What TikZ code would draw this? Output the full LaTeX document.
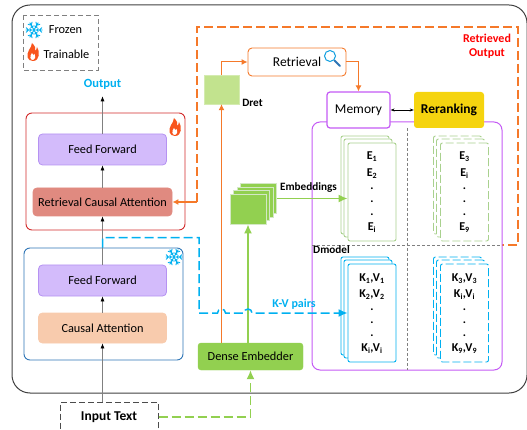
\documentclass[tikz,border=0pt]{standalone}
\usepackage{fontspec}
\setmainfont{Carlito}
\usetikzlibrary{arrows.meta,positioning,calc}
\definecolor{skyblue}{HTML}{00B0F0}
\definecolor{flameorange}{HTML}{F5792A}
\definecolor{leafgreen}{HTML}{92D050}
\definecolor{palegreen}{HTML}{A9D18E}
\definecolor{dretgreen}{HTML}{C2E38E}
\definecolor{memviolet}{HTML}{C45AF5}
\definecolor{ffpurple}{HTML}{D3BBFB}
\definecolor{ffborder}{HTML}{B692F2}
\definecolor{rcared}{HTML}{E08A80}
\definecolor{capeach}{HTML}{F8CBAD}
\definecolor{trainred}{HTML}{D22B2B}
\definecolor{frozenblue}{HTML}{2E75B6}
\definecolor{rerankgold}{HTML}{F5D40F}
\tikzset{
  snowflake/.pic={
    \foreach \a in {0,60,...,300}
      \draw[skyblue, line width=0.9pt, rotate=\a] (0,0)--(8.5,0) (5.5,0)--(8,2.4) (5.5,0)--(8,-2.4) (2.8,0)--(4.3,1.6) (2.8,0)--(4.3,-1.6);
  },
  flame/.pic={
    \fill[flameorange!70!red] (0,8) .. controls (-6,8) and (-7,2) .. (-4,-3) .. controls (-3,-5) and (-1,-7) .. (-1,-10) .. controls (2,-7) and (3,-5) .. (2,-2) .. controls (3,-3) and (4,-4) .. (4,-6) .. controls (7,-2) and (7,8) .. (0,8) -- cycle;
    \fill[white] (0,7) .. controls (-3,7) and (-3.5,3) .. (-1,0) .. controls (-0.5,2) and (1,3) .. (1.5,1) .. controls (3,4) and (2,7) .. (0,7) -- cycle;
  }
}
\begin{document}
\begin{tikzpicture}[x=1pt, y=-1pt,
  block/.style={rounded corners=4pt, line width=0.8pt, inner sep=0pt, minimum width=128, minimum height=31, font=\fontsize{12.3}{14}\selectfont},
  flow/.style={draw=gray, line width=0.6pt, -{Latex[length=5pt,width=4pt,color=black]}},
  card/.style={fill=white, line width=0.9pt, rounded corners=2pt, minimum width=48, minimum height=98, inner sep=0pt},
  dcard/.style={card, dash pattern=on 8pt off 3pt},
  entry/.style={font=\bfseries\fontsize{12}{14}\selectfont, inner sep=0pt},
  tag/.style={font=\bfseries\fontsize{11.2}{13}\selectfont},
  big/.style={font=\fontsize{13.5}{16}\selectfont},
  fat/.style={line width=1.5pt, dash pattern=on 9pt off 4pt}
]
\useasboundingbox (0,0) rectangle (527,430);
\draw[black!75, line width=1pt, rounded corners=18pt] (12,5) rectangle (527,393);

% legend
\draw[gray, line width=0.9pt, dash pattern=on 5pt off 3pt] (23,15) rectangle (98,70);
\pic at (34,30) {snowflake};
\pic at (33,53) {flame};
\node (frozen) [font=\fontsize{12.3}{14}\selectfont] at (65.5,30) {Frozen};
\node (trainable) [font=\fontsize{12.3}{14}\selectfont] at (66.5,54) {Trainable};

% decoder
\node (trainblk) [draw=trainred, line width=0.9pt, rounded corners=6pt, minimum width=159, minimum height=117] at (105.5,171.5) {};
\node (frozenblk) [draw=frozenblue, line width=0.9pt, rounded corners=6pt, minimum width=159, minimum height=112] at (103.5,304) {};
\pic at (175,128) {flame};
\pic at (174,257) {snowflake};
\node (ff1) [block, fill=ffpurple, draw=ffborder] at (102.5,149.5) {Feed Forward};
\node (rca) [block, fill=rcared, draw=rcared, minimum width=139, minimum height=28] at (102.5,202) {Retrieval Causal Attention};
\node (ff2) [block, fill=ffpurple, draw=ffborder] at (102.5,280.5) {Feed Forward};
\node (ca) [block, fill=capeach, draw=capeach, minimum height=30] at (102.5,328) {Causal Attention};
\node (output) [text=skyblue, inner ysep=7pt, font=\bfseries\fontsize{12.5}{14}\selectfont] at (102.5,84) {Output};
\node (input) [draw=black!70, line width=1pt, dash pattern=on 6pt off 3pt, minimum width=98, anchor=north, inner ysep=9pt, text depth=18pt, font=\bfseries\fontsize{13.5}{16}\selectfont] at (109,402) {Input Text};

\draw[flow] (ca.south |- input.north) -- (ca.south);
\draw[flow] (ca.north) -- (ff2.south);
\draw[flow] (ff2.north) -- (rca.south);
\draw[flow] (rca.north) -- (ff1.south);
\draw[flow] (ff1.north) -- (output.south);

% retrieved output frame
\coordinate (retout) at (197,202);
\draw[flameorange, fat] (retout) -- (197,27) -- (518,27) -- (518,245) -- (502,245);
\draw[flameorange, line width=1.3pt, -{Latex[length=6pt,width=6pt]}] (retout) -- (rca.east);
\node (retrout) [align=center, text=red, font=\bfseries\fontsize{12}{14}\selectfont] at (487,46) {Retrieved\\Output};

% memory area
\draw[memviolet, line width=1pt, rounded corners=8pt] (312,122) rectangle (502,370);
\draw[gray, line width=0.5pt, densely dashed] (407,128) -- (407,370);
\draw[gray, line width=0.5pt, densely dashed] (312,245) -- (502,245);
\node (dmodel) [tag] at (331.5,250) {Dmodel};

\foreach \d in {7,4,0} {
  \node (ecard\d) [card, draw=palegreen] at ($(372,192)+(-\d,-\d)$) {};
  \node (ercard\d) [dcard, draw=palegreen] at ($(464.5,192)+(-\d,-\d)$) {};
  \node (kvcard\d) [card, draw=skyblue] at ($(372,313)+(-\d,-\d)$) {};
  \node (kvrcard\d) [dcard, draw=skyblue] at ($(464.5,313)+(-\d,-\d)$) {};
}
\foreach \dy/\t [count=\i] in {14/E\textsubscript{1},31/E\textsubscript{2},46/.,59/.,72/.,85/E\textsubscript{i}}
  \node (e\i) [entry] at ($(ecard0.north)+(0,\dy)$) {\t};
\foreach \dy/\t [count=\i] in {14/E\textsubscript{3},31/E\textsubscript{i},46/.,59/.,72/.,85/E\textsubscript{9}}
  \node (er\i) [entry] at ($(ercard0.north)+(0,\dy)$) {\t};
\foreach \dy/\t [count=\i] in {15/{K\textsubscript{1},V\textsubscript{1}},31/{K\textsubscript{2},V\textsubscript{2}},46/.,59/.,72/.,85/{K\textsubscript{i},V\textsubscript{i}}}
  \node (kv\i) [entry] at ($(kvcard0.north)+(0,\dy)$) {\t};
\foreach \dy/\t [count=\i] in {15/{K\textsubscript{3},V\textsubscript{3}},31/{K\textsubscript{i},V\textsubscript{i}},46/.,59/.,72/.,85/{K\textsubscript{9},V\textsubscript{9}}}
  \node (kvr\i) [entry] at ($(kvrcard0.north)+(0,\dy)$) {\t};

\node (mem) [big, draw=memviolet, fill=white, line width=1.2pt, rounded corners=3pt, minimum width=63, minimum height=36] at (358.5,110) {Memory};
\node (rerank) [fill=rerankgold, rounded corners=3pt, minimum width=70, minimum height=36, font=\bfseries\fontsize{13.5}{16}\selectfont] at (449,110) {Reranking};
\draw[{Stealth[length=4pt]}-{Stealth[length=4pt]}, line width=0.6pt] (mem.east) -- (rerank.west);

% retrieval path
\node (dense) [fill=leafgreen, draw=leafgreen, rounded corners=3pt, minimum width=105, minimum height=27, font=\fontsize{12.3}{14}\selectfont] at (250.5,356.5) {Dense Embedder};
\node (dret) [fill=dretgreen, draw=dretgreen!70!white, minimum width=35, minimum height=29] at (221.5,89.5) {};
\node (dretlbl) [tag] at (252.5,103) {Dret};
\node (retr) [big, draw=flameorange, fill=white, line width=0.9pt, rounded corners=4pt, minimum width=98, minimum height=28] at (297,62) {Retrieval};
\draw[skyblue!70!frozenblue, line width=1pt] (330,56) circle (5.5);
\draw[frozenblue, line width=2pt, line cap=round] (334.5,60.5) -- (340,66);

\foreach \d [count=\i] in {10.5,7,3.5}
  \node (embback\i) [fill=leafgreen, draw=palegreen!50, line width=0.8pt, minimum width=36, minimum height=30] at ($(248,209)+(\d,-\d)$) {};
\node (emb) [fill=leafgreen, draw=palegreen!50, line width=0.8pt, minimum width=36, minimum height=30] at (248,209) {};
\node (embl) [tag] at (308.5,188) {Embeddings};

\draw[flameorange, line width=1pt, -{Latex[length=6pt,width=6pt]}] (dret.south |- dense.north) -- (dret.south);
\draw[flameorange, line width=1pt, -{Latex[length=6pt,width=6pt]}] (dret.north) |- (retr.west);
\draw[flameorange, line width=1pt, -{Latex[length=6pt,width=6pt]}] (retr.east) -| (mem.north);

\draw[leafgreen, line width=1.5pt, -{Latex[length=9pt,width=8pt]}] (emb.south |- dense.north) -- (emb.south);
\draw[leafgreen, line width=1.5pt, -{Latex[length=9pt,width=8pt]}] (embback1.east) -- (embback1.east -| ecard0.west);
\draw[leafgreen, fat, -{Latex[length=9pt,width=8pt]}] ($(input.north east)+(0,15)$) -| (dense.south);

% k-v pairs
\coordinate (kvbend) at (199,313);
\draw[skyblue, fat, -{Latex[length=9pt,width=8pt]}] (frozenblk.north -| ff2.north) -- ++(0,-10) -| (kvbend) -- (217.5,313) arc (180:360:4) -- (244,313) arc (180:360:4) -- (kvcard0.west);
\node (kvlbl) [text=skyblue, font=\bfseries\fontsize{12}{14}\selectfont] at (294,304) {K-V pairs};
\end{tikzpicture}
\end{document}
